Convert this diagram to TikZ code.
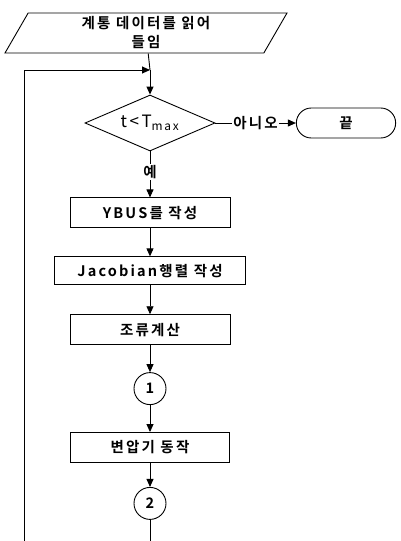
\documentclass[tikz,border=0pt]{standalone}
\usepackage{fontspec}
\setmainfont{Noto Sans CJK KR}[LetterSpace=15, BoldFont={* Bold}]
\usetikzlibrary{shapes,arrows.meta,positioning}

\begin{document}
\begin{tikzpicture}[
            x=1pt, y=1pt,
            font=\fontsize{14.5}{18}\selectfont\bfseries,
            line width=0.9pt,
            box/.style={rectangle, draw, minimum height=30pt, inner sep=2pt},
            iobox/.style={trapezium, draw, trapezium left angle=56, trapezium right angle=124, trapezium stretches body, minimum width=282pt, minimum height=40pt, align=center, inner sep=1pt, font=\fontsize{14.5}{19}\selectfont\bfseries},
            decision/.style={diamond, draw, minimum width=130pt, minimum height=56pt, aspect=2.3, inner sep=0pt},
            terminal/.style={rounded rectangle, draw, minimum width=106pt, minimum height=30pt},
            connector/.style={circle, draw, minimum size=32pt, inner sep=0pt},
            arrow/.style={-{Triangle[length=8pt,width=7pt]}}
        ]
        \useasboundingbox (0,0) rectangle (401,-541);

        % Input and loop test
        \node[iobox] (read) at (146,-33) {계통 데이터를 읽어\\들임};
        \coordinate (merge) at (150,-70);
        \node[decision, font=\fontsize{17}{20}\selectfont] (test) at (150,-123) {t<T\textsubscript{max}};
        \node[terminal] (stop) at (346,-123) {끝};

        % Processing steps
        \node[box, minimum width=160pt, below=46pt of test] (ybus) {YBUS를 작성};
        \node[box, minimum width=191pt, minimum height=28pt, below=28pt of ybus] (jacobian) {Jacobian행렬 작성};
        \node[box, minimum width=160pt, below=29pt of jacobian] (flow) {조류계산};
        \node[connector, below=27pt of flow] (one) {1};
        \node[box, minimum width=159pt, below=27pt of one] (trans) {변압기 동작};
        \node[connector, below=24pt of trans] (two) {2};

        % Open ends at the bottom
        \coordinate (down) at (150,-541);
        \coordinate (back) at (24,-541);

        % Arrows
        \draw (read) -- (merge);
        \draw[arrow] (merge) -- (test);
        \draw[arrow] (test) -- node[fill=white, inner sep=1pt] {아니오} (stop);
        \draw[arrow] (test) -- node[fill=white, inner sep=1pt, pos=0.45] {예} (ybus);
        \draw[arrow] (ybus) -- (jacobian);
        \draw[arrow] (jacobian) -- (flow);
        \draw[arrow] (flow) -- (one);
        \draw[arrow] (one) -- (trans);
        \draw[arrow] (trans) -- (two);
        \draw (two) -- (down);
        \draw[arrow] (back) |- (merge);

        \end{tikzpicture}
\end{document}
